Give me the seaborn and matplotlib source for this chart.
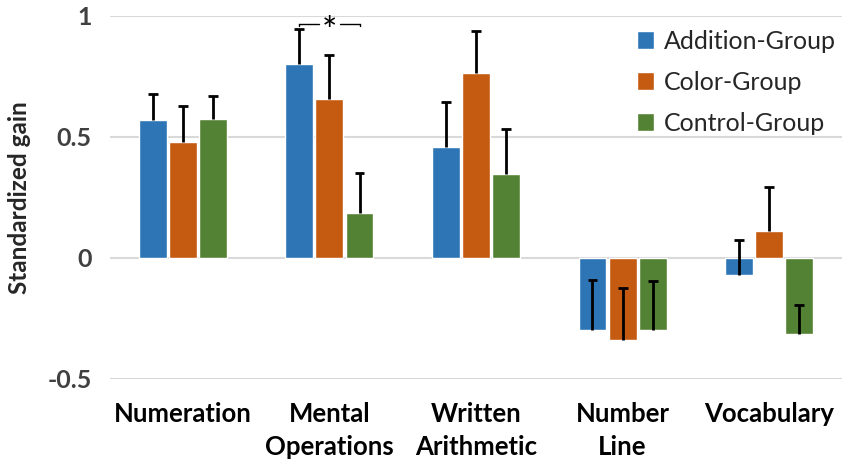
import matplotlib
matplotlib.use("Agg")
import matplotlib.pyplot as plt
import seaborn as sns
import pandas as pd

# --- data ---
categories = ["Numeration", "Mental\nOperations", "Written\nArithmetic", "Number\nLine", "Vocabulary"]
groups = ["Addition-Group", "Color-Group", "Control-Group"]
addition_gain = [0.57, 0.80, 0.46, -0.30, -0.07]
color_gain = [0.48, 0.655, 0.765, -0.34, 0.11]
control_gain = [0.575, 0.185, 0.345, -0.30, -0.315]
addition_err = [0.107, 0.148, 0.183, 0.209, 0.145]
color_err = [0.148, 0.183, 0.172, 0.214, 0.183]
control_err = [0.093, 0.167, 0.186, 0.203, 0.12]
yticks = [-0.5, 0, 0.5, 1]
ytick_labels = ["-0.5", "0", "0.5", "1"]

palette = {"Addition-Group": "#2E75B6", "Color-Group": "#C55A11", "Control-Group": "#548235"}

sns.set_theme(style="white")
plt.rcParams["font.family"] = ["Lato", "DejaVu Sans"]

df = pd.DataFrame({
    "category": categories * 3,
    "group": [g for g in groups for _ in categories],
    "gain": addition_gain + color_gain + control_gain,
    "err": addition_err + color_err + control_err,
})

fig = plt.figure(figsize=(8.5, 4.7), dpi=100)
ax = fig.add_axes([0.129, 0.194, 0.862, 0.772])

sns.barplot(data=df, x="category", y="gain", hue="group", hue_order=groups,
            palette=palette, width=0.615, gap=0.07, errorbar=None,
            saturation=1, ax=ax, zorder=2)

# one-sided (upper) error bars, cap only at the top end
cap_half = 0.034
for container, grp in zip(ax.containers, groups):
    sub = df[df["group"] == grp]
    xs = [b.get_x() + b.get_width() / 2 for b in container]
    tops = sub["gain"].values + sub["err"].values
    ax.vlines(xs, sub["gain"].values, tops, color="black", lw=2, zorder=3)
    ax.hlines(tops, [x - cap_half for x in xs], [x + cap_half for x in xs],
              color="black", lw=2, zorder=3)

# significance bracket between Addition and Control in Mental Operations
mo = ax.containers[0][1], ax.containers[1][1], ax.containers[2][1]
x_left = mo[0].get_x() + mo[0].get_width() / 2
x_mid = mo[1].get_x() + mo[1].get_width() / 2
x_right = mo[2].get_x() + mo[2].get_width() / 2
y_br = 0.967
ax.plot([x_left, x_left], [y_br - 0.01, y_br], color="black", lw=1, zorder=3)
ax.plot([x_left, x_mid - 0.07], [y_br, y_br], color="black", lw=1, zorder=3)
ax.plot([x_mid + 0.07, x_right], [y_br, y_br], color="black", lw=1, zorder=3)
ax.plot([x_right, x_right], [y_br - 0.01, y_br], color="black", lw=1, zorder=3)
ax.text(x_mid, y_br - 0.035, "*", ha="center", va="center", fontsize=26,
        color="black", zorder=4)

ax.set_ylim(-0.5, 1)
ax.set_xlim(-0.5, 4.5)
ax.set_yticks(yticks)
ax.set_yticklabels(ytick_labels)
ax.yaxis.grid(True, color="#D9D9D9", linewidth=1.5, zorder=0)
ax.set_axisbelow(True)
for side in ["top", "right", "left", "bottom"]:
    ax.spines[side].set_visible(False)
ax.tick_params(axis="both", length=0)
ax.tick_params(axis="y", labelsize=18, labelcolor="#404040", pad=13)
ax.tick_params(axis="x", labelsize=18.5, labelcolor="black", pad=17)
for lbl in ax.get_xticklabels():
    lbl.set_fontweight("bold")
    lbl.set_linespacing(1.45)
for lbl in ax.get_yticklabels():
    lbl.set_fontweight("bold")
ax.set_xlabel("")
ax.set_ylabel("Standardized gain", fontsize=17.5, fontweight="bold", labelpad=12)

handles, labels = ax.get_legend_handles_labels()
ax.legend(handles, labels, loc="upper right", bbox_to_anchor=(1.005, 0.99),
          borderaxespad=0, frameon=False, fontsize=18, handlelength=0.7,
          handleheight=0.7, handletextpad=0.4, labelspacing=0.72)

fig.savefig("out.png", dpi=100)
